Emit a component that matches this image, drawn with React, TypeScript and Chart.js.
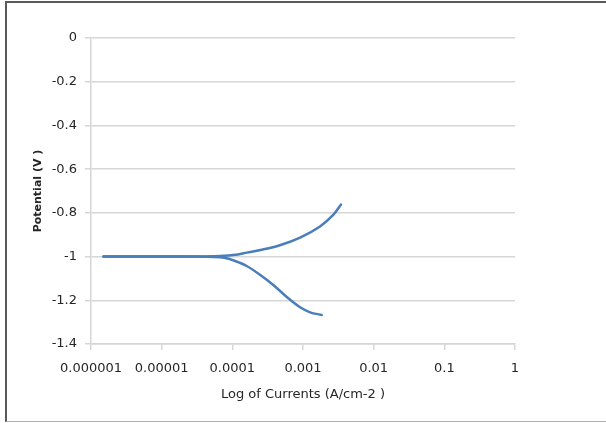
import React, { useEffect, useRef } from "react";
import { Chart, registerables } from "chart.js";

Chart.register(...registerables);

// Tick values and labels
const xTicks = [1e-6, 1e-5, 1e-4, 1e-3, 1e-2, 1e-1, 1];
const xTickLabels = ["0.000001", "0.00001", "0.0001", "0.001", "0.01", "0.1", "1"];
const yTicks = [-1.4, -1.2, -1, -0.8, -0.6, -0.4, -0.2, 0];
const yTickLabels = ["-1.4", "-1.2", "-1", "-0.8", "-0.6", "-0.4", "-0.2", "0"];

// Anodic (upper) branch: current (A/cm2) and potential (V)
const anodicCurrent = [1.5e-6, 5e-6, 1.8e-5, 6.7e-5, 1.2e-4, 1.6e-4, 2.5e-4, 4.7e-4, 9.1e-4, 1.74e-3, 2.7e-3, 3.45e-3];
const anodicPotential = [-1.0, -1.0, -1.0, -0.997, -0.99, -0.982, -0.97, -0.948, -0.913, -0.862, -0.808, -0.762];

// Cathodic (lower) branch
const cathodicCurrent = [1.5e-6, 5e-6, 1.8e-5, 6.7e-5, 9.3e-5, 1.2e-4, 1.6e-4, 2.46e-4, 3.8e-4, 5.9e-4, 9.1e-4, 1.26e-3, 1.84e-3];
const cathodicPotential = [-1.0, -1.0, -1.0, -1.003, -1.012, -1.025, -1.043, -1.083, -1.13, -1.185, -1.232, -1.255, -1.267];

const xTitle = "Log of Currents (A/cm-2 )";
const yTitle = "Potential (V )";

const LINE = "#4a7ebb";
const GRID = "#d6d6d6";
const TEXT = "#262626";

export default function App() {
  const ref = useRef<HTMLCanvasElement | null>(null);

  useEffect(() => {
    if (!ref.current) return;
    const toPts = (xs: number[], ys: number[]) => xs.map((x, i) => ({ x, y: ys[i] }));
    const lineStyle = {
      borderColor: LINE,
      borderWidth: 2.5,
      pointRadius: 0,
      tension: 0.35,
      borderCapStyle: "round",
      borderJoinStyle: "round",
      fill: false,
    };
    const chart = new Chart(ref.current, {
      type: "line",
      data: {
        datasets: [
          { data: toPts(anodicCurrent, anodicPotential), ...lineStyle },
          { data: toPts(cathodicCurrent, cathodicPotential), ...lineStyle },
        ],
      },
      options: {
        animation: false,
        responsive: false,
        devicePixelRatio: 1,
        layout: { padding: { top: 38, right: 91, left: 0, bottom: 0 } },
        plugins: { legend: { display: false }, tooltip: { enabled: false } },
        scales: {
          x: {
            type: "logarithmic",
            min: 1e-6,
            max: 1,
            afterBuildTicks: (scale: any) => {
              scale.ticks = xTicks.map((v) => ({ value: v, major: false }));
            },
            afterFit: (scale: any) => {
              scale.height = 79;
            },
            ticks: {
              autoSkip: false,
              maxRotation: 0,
              padding: 11,
              color: TEXT,
              font: { family: "DejaVu Sans", size: 13 },
              callback: (_v: any, i: number) => xTickLabels[i],
            },
            grid: {
              drawOnChartArea: false,
              drawTicks: true,
              tickLength: 6,
              color: GRID,
              lineWidth: 1.5,
            },
            border: { display: true, color: GRID, width: 1.5 },
            title: {
              display: true,
              text: xTitle,
              color: TEXT,
              font: { family: "DejaVu Sans", size: 13 },
              padding: { top: 0, bottom: 21 },
            },
          },
          y: {
            type: "linear",
            min: -1.4,
            max: 0,
            afterBuildTicks: (scale: any) => {
              scale.ticks = yTicks.map((v) => ({ value: v }));
            },
            afterFit: (scale: any) => {
              scale.width = 91;
            },
            ticks: {
              padding: 8,
              color: TEXT,
              font: { family: "DejaVu Sans", size: 13 },
              callback: (_v: any, i: number) => yTickLabels[i],
            },
            grid: {
              color: GRID,
              lineWidth: 1.5,
              drawTicks: true,
              tickLength: 6,
            },
            border: { display: true, color: GRID, width: 1.5 },
            title: {
              display: true,
              text: yTitle,
              color: TEXT,
              font: { family: "DejaVu Sans", size: 11, weight: "bold" },
              padding: { top: 32, bottom: 0 },
            },
          },
        },
      },
    } as any);
    return () => chart.destroy();
  }, []);

  return (
    <div style={{ position: "fixed", left: 0, top: 0, width: 606, height: 423, background: "#fff" }}>
      <canvas ref={ref} width={606} height={423} style={{ display: "block", width: 606, height: 423 }} />
      <div
        style={{
          position: "absolute",
          left: 5,
          top: 1,
          width: 601,
          height: 421,
          boxSizing: "border-box",
          borderTop: "2px solid #5a5a5a",
          borderLeft: "2px solid #5a5a5a",
          borderBottom: "1px solid #b0b0b0",
          pointerEvents: "none",
        }}
      />
    </div>
  );
}
